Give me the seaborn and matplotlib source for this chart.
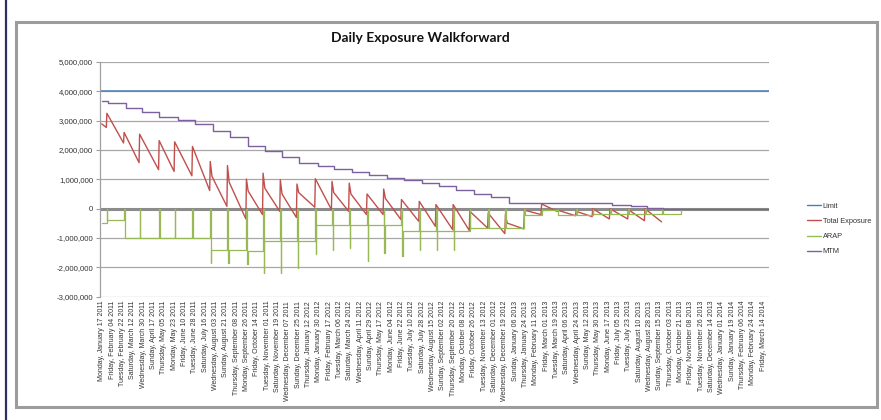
import pandas as pd
import numpy as np
import matplotlib.pyplot as plt
from matplotlib.ticker import FuncFormatter
from matplotlib.patches import Rectangle
from matplotlib.lines import Line2D
import seaborn as sns

## valores em milhoes, lidos do grafico
## ciclos mensais: data do pico da exposicao total
cycle_dates = ["2011-01-26", "2011-02-25", "2011-03-24", "2011-04-27", "2011-05-24", "2011-06-24",
               "2011-07-25", "2011-08-24", "2011-09-26", "2011-10-25", "2011-11-24", "2011-12-23",
               "2012-01-24", "2012-02-22", "2012-03-23", "2012-04-23", "2012-05-22", "2012-06-22",
               "2012-07-23", "2012-08-21", "2012-09-20", "2012-10-19", "2012-11-20", "2012-12-20",
               "2013-01-22", "2013-02-21", "2013-03-21", "2013-04-22", "2013-05-21", "2013-06-20",
               "2013-07-22", "2013-08-20"]
te_peak = [3.25, 2.60, 2.54, 2.32, 2.28, 2.12, 1.61, 1.47, 1.01, 1.21, 0.99, 0.84,
           1.02, 0.93, 0.87, 0.50, 0.67, 0.31, 0.25, 0.14, 0.14, -0.09, -0.15, -0.20,
           -0.05, 0.16, -0.05, -0.09, 0.00, 0.00, -0.03, 0.00]
te_jag = [np.nan, np.nan, np.nan, np.nan, np.nan, np.nan, 1.10, 0.90, 0.60, 0.70, 0.50, 0.55,
          np.nan, 0.55, 0.50, np.nan, 0.35, np.nan, np.nan, np.nan, np.nan, np.nan, np.nan, -0.49,
          np.nan, np.nan, np.nan, np.nan, np.nan, np.nan, np.nan, np.nan]
te_trough = [2.24, 1.57, 1.33, 1.27, 1.12, 0.62, 0.08, -0.35, -0.20, -0.09, -0.30, 0.05,
             -0.03, -0.09, -0.20, -0.20, -0.37, -0.43, -0.60, -0.71, -0.74, -0.66, -0.85, -0.69,
             -0.20, -0.09, -0.24, -0.27, -0.35, -0.35, -0.41, -0.45]
arap_spike = [-0.40, -1.00, -1.00, -1.00, -1.00, -1.00, -1.85, -1.85, -1.90, -2.19, -2.19, -2.02,
              -1.56, -1.40, -1.35, -1.79, -1.50, -1.60, -1.40, -1.40, -1.40, -0.66, -0.66, -0.66,
              -0.20, -0.03, -0.20, -0.20, -0.18, -0.18, -0.18, -0.18]
arap_level = [-0.40, -1.00, -1.00, -1.00, -1.00, -1.00, -1.42, -1.40, -1.43, -1.11, -1.09, -1.10,
              -0.54, -0.54, -0.54, -0.54, -0.54, -0.77, -0.77, -0.77, -0.77, -0.66, -0.66, -0.66,
              -0.20, -0.03, -0.20, -0.20, -0.18, -0.18, -0.18, -0.18]

start_date = "2011-01-17"
te_start = [2.89, 2.77]
arap_start = -0.49
te_end_date = "2013-09-19"
arap_last = -0.18
arap_end_date = "2013-10-21"
end_date = "2014-03-24"

mtm_dates = ["2011-01-17", "2011-01-28", "2011-02-28", "2011-03-29", "2011-04-27", "2011-05-29",
             "2011-06-29", "2011-07-29", "2011-08-28", "2011-09-28", "2011-10-28", "2011-11-27",
             "2011-12-27", "2012-01-28", "2012-02-26", "2012-03-28", "2012-04-26", "2012-05-28",
             "2012-06-26", "2012-07-28", "2012-08-27", "2012-09-25", "2012-10-27", "2012-11-25",
             "2012-12-27", "2013-01-27", "2013-06-24", "2013-07-26", "2013-08-23", "2013-09-21",
             "2014-03-24"]
mtm_vals = [3.68, 3.59, 3.43, 3.29, 3.14, 3.03, 2.89, 2.65, 2.44, 2.15, 1.97, 1.76,
            1.57, 1.44, 1.35, 1.26, 1.15, 1.05, 0.97, 0.86, 0.76, 0.65, 0.51, 0.40,
            0.21, 0.19, 0.14, 0.08, 0.02, 0.00, 0.00]
limit_value = 4.0

## eixo x: rotulos a cada 18 dias
tick_first = "2011-01-17"
tick_last = "2014-03-14"
tick_step = "18D"

## montando os vertices das series
day = pd.Timedelta(days=1)
cyc = pd.to_datetime(cycle_dates)
nxt = list(cyc[1:]) + [pd.Timestamp(te_end_date)]

te_x = [pd.Timestamp(start_date), cyc[0] - day]
te_y = list(te_start)
ar_x = [pd.Timestamp(start_date)]
ar_y = [arap_start]
for i, d in enumerate(cyc):
    te_x.append(d); te_y.append(te_peak[i])
    if not np.isnan(te_jag[i]):
        te_x.append(d + 3 * day); te_y.append(te_jag[i])
    te_x.append(nxt[i] - day); te_y.append(te_trough[i])
    ar_x += [d, d + day, d + 2 * day]
    ar_y += [0.0, arap_spike[i], arap_level[i]]
ar_x += [pd.Timestamp(te_end_date), pd.Timestamp(te_end_date) + day,
         pd.Timestamp(arap_end_date), pd.Timestamp(end_date)]
ar_y += [0.0, arap_last, 0.0, 0.0]

df_te = pd.DataFrame({"date": te_x, "value": np.array(te_y) * 1e6})
df_ar = pd.DataFrame({"date": ar_x, "value": np.array(ar_y) * 1e6})
df_mtm = pd.DataFrame({"date": pd.to_datetime(mtm_dates), "value": np.array(mtm_vals) * 1e6})
df_lim = pd.DataFrame({"date": pd.to_datetime(["2011-01-14", end_date]),
                       "value": [limit_value * 1e6] * 2})

sns.set_style("white")
plt.rcParams['font.family'] = ['Liberation Sans', 'DejaVu Sans']

fig = plt.figure(figsize=(8.81, 4.2), dpi=100)
ax = fig.add_axes([100 / 881, 1 - 296.7 / 420, 669 / 881, (296.7 - 62) / 420])

cores = {"Limit": "#4a7ebb", "Total Exposure": "#c0504d", "ARAP": "#98b954", "MTM": "#7d60a0"}

## linhas de grade e eixo no zero
for v in range(-3, 6):
    ax.axhline(v * 1e6, color="#a8a8a8", lw=0.9, zorder=1)
ax.axhline(0, color="#8c8c8c", lw=2.2, zorder=1.5)

sns.lineplot(data=df_lim, x="date", y="value", ax=ax, color=cores["Limit"], lw=1.1,
             estimator=None, sort=False, label="Limit")
sns.lineplot(data=df_te, x="date", y="value", ax=ax, color=cores["Total Exposure"], lw=1.0,
             estimator=None, sort=False, label="Total Exposure")
sns.lineplot(data=df_ar, x="date", y="value", ax=ax, color=cores["ARAP"], lw=0.9,
             estimator=None, sort=False, drawstyle="steps-post", label="ARAP")
sns.lineplot(data=df_mtm, x="date", y="value", ax=ax, color=cores["MTM"], lw=1.0,
             estimator=None, sort=False, drawstyle="steps-post", label="MTM")

ax.set_xlim(pd.Timestamp("2011-01-14"), pd.Timestamp(end_date))
ax.set_ylim(-3e6, 5e6)
ax.set_yticks(np.arange(-3, 6) * 1e6)
ax.yaxis.set_major_formatter(FuncFormatter(lambda v, p: f"{v:,.0f}"))

ticks = pd.date_range(tick_first, tick_last, freq=tick_step)
ax.set_xticks(ticks)
ax.set_xticklabels([t.strftime("%A, %B %d %Y") for t in ticks], rotation=90,
                   fontsize=5.0, color="#333333", va="top", ha="center")
ax.tick_params(axis="x", length=0, pad=3)
ax.tick_params(axis="y", length=3, width=0.8, color="#a0a0a0", labelsize=5.6,
               labelcolor="#333333", pad=2, left=True)
ax.set_xlabel("")
ax.set_ylabel("")
for s in ["top", "right", "bottom"]:
    ax.spines[s].set_visible(False)
ax.spines["left"].set_color("#a0a0a0")
ax.spines["left"].set_linewidth(0.9)

## legenda a direita
ax.get_legend().remove()
handles = [Line2D([], [], color=cores[k], lw=1.0) for k in cores]
fig.legend(handles, list(cores), loc="center left", bbox_to_anchor=(800 / 881, 1 - 229 / 420),
           frameon=False, fontsize=5.3, handlelength=2.0, handletextpad=0.2, labelspacing=1.1,
           labelcolor="#333333")

## titulo
fig.text(420 / 881, 1 - 38 / 420, "Daily Exposure Walkforward", ha="center", va="center",
         fontsize=10, fontweight="bold", color="#111111", family=["Lato", "DejaVu Sans"])

## moldura do grafico
fig.patches.append(Rectangle((16 / 881, 1 - 407 / 420), 861 / 881, 385 / 420,
                             transform=fig.transFigure, fill=False, edgecolor="#9c9c9c", lw=2.2))
fig.lines.append(Line2D([6 / 881, 6 / 881], [0, 1], transform=fig.transFigure,
                        color="#2d3160", lw=1.6))

plt.savefig("out.png", dpi=100)
plt.close()
